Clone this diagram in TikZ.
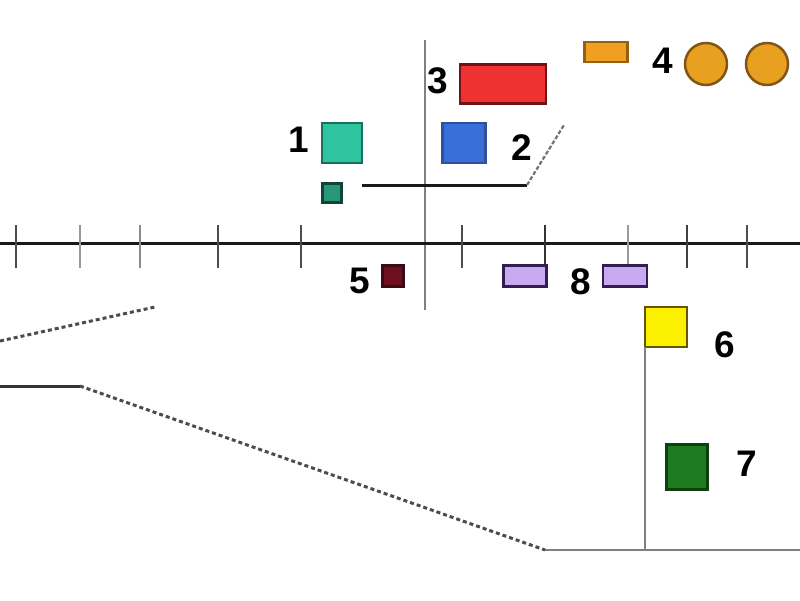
\documentclass[tikz,border=0pt]{standalone}
\usepackage{fontspec}
\setmainfont{Liberation Sans}
\begin{document}
\begin{tikzpicture}[x=1pt,y=-1pt,
  box/.style={draw, line width=2.5pt, inner sep=0pt, outer sep=0pt},
  lbl/.style={inner sep=0pt, font=\fontsize{37}{40}\selectfont\bfseries},
  guide/.style={line width=2.5pt, black!50},
  dashline/.style={line width=3pt, black!70, dash pattern=on 4pt off 3pt}]
\useasboundingbox (0,0) rectangle (800,600);
\fill[white] (0,0) rectangle (800,600);

% vertical and horizontal guides
\coordinate (vtop) at (425,40);
\coordinate (vbot) at (425,310);
\draw[guide] (vtop) -- (vbot);
\coordinate (axL) at (0,243);
\coordinate (axR) at (800,243);
\draw[line width=3pt, black!90] (axL) -- (axR);
\foreach \x/\c in {16/70,80/40,140/45,218/70,301/70,462/70,545/80,628/40,687/75,747/70}
  \draw[line width=2.5pt, black!\c] (\x,225) -- (\x,268);

% shapes
\node[box, fill={rgb,255:red,46;green,196;blue,160}, draw={rgb,255:red,26;green,110;blue,90}, minimum width=40pt, minimum height=40pt] (s1) at (342,143) {};
\node[box, fill={rgb,255:red,40;green,150;blue,120}, draw={rgb,255:red,16;green,70;blue,55}, minimum width=19pt, minimum height=19pt] (s1b) at (332,193) {};
\node[box, fill={rgb,255:red,58;green,110;blue,216}, draw={rgb,255:red,50;green,80;blue,150}, minimum width=43pt, minimum height=40pt] (s2) at (464,143) {};
\node[box, fill={rgb,255:red,238;green,50;blue,50}, draw={rgb,255:red,110;green,20;blue,20}, minimum width=86pt, minimum height=39pt] (s3) at (503,84) {};
\node[box, fill={rgb,255:red,240;green,160;blue,32}, draw={rgb,255:red,150;green,95;blue,20}, minimum width=43pt, minimum height=20pt] (s4) at (606,52) {};
\node[box, circle, fill={rgb,255:red,232;green,160;blue,32}, draw={rgb,255:red,130;green,85;blue,20}, minimum size=42pt] (c1) at (706,64) {};
\node[box, circle, fill={rgb,255:red,232;green,160;blue,32}, draw={rgb,255:red,130;green,85;blue,20}, minimum size=42pt] (c2) at (767,64) {};
\node[box, fill={rgb,255:red,110;green,16;blue,32}, draw={rgb,255:red,60;green,10;blue,20}, minimum width=21pt, minimum height=21pt] (s5) at (393,276) {};
\node[box, fill={rgb,255:red,200;green,168;blue,240}, draw={rgb,255:red,50;green,30;blue,80}, minimum width=43pt, minimum height=21pt] (s8a) at (525,276) {};
\node[box, fill={rgb,255:red,200;green,168;blue,240}, draw={rgb,255:red,50;green,30;blue,80}, minimum width=44pt, minimum height=21pt] (s8b) at (625,276) {};
\node[box, fill={rgb,255:red,250;green,240;blue,0}, draw={rgb,255:red,100;green,85;blue,0}, minimum width=42pt, minimum height=40pt] (s6) at (666,327) {};
\node[box, fill={rgb,255:red,30;green,122;blue,30}, draw={rgb,255:red,16;green,64;blue,16}, minimum width=41pt, minimum height=45pt] (s7) at (687,467) {};

% labels
\node[lbl] (l1) at (299,140) {1};
\node[lbl] (l2) at (522,148) {2};
\node[lbl] (l3) at (438,81) {3};
\node[lbl] (l4) at (663,61) {4};
\node[lbl] (l5) at (360,281) {5};
\node[lbl] (l6) at (725,345) {6};
\node[lbl] (l7) at (747,464) {7};
\node[lbl] (l8) at (581,282) {8};

% lines near 1/2
\coordinate (k0) at (362,185);
\coordinate (k1) at (527,185);
\coordinate (k2) at (564,125);
\draw[line width=3pt, black!90] (k0) -- (k1);
\draw[line width=2.2pt, black!55, dash pattern=on 4pt off 2pt] (k1) -- (k2);

% lower lines
\coordinate (v6bot) at (645,550);
\draw[guide] (s6.south west) -- (v6bot);
\coordinate (hL) at (545,550);
\coordinate (hR) at (800,550);
\draw[guide] (hL) -- (hR);
\coordinate (a0) at (0,386);
\coordinate (a1) at (80,386);
\draw[line width=3pt, black!80] (a0) -- (a1);
\draw[dashline] (a1) -- (hL);
\coordinate (b0) at (0,341);
\coordinate (b1) at (155,307);
\draw[dashline] (b0) -- (b1);
\end{tikzpicture}
\end{document}
